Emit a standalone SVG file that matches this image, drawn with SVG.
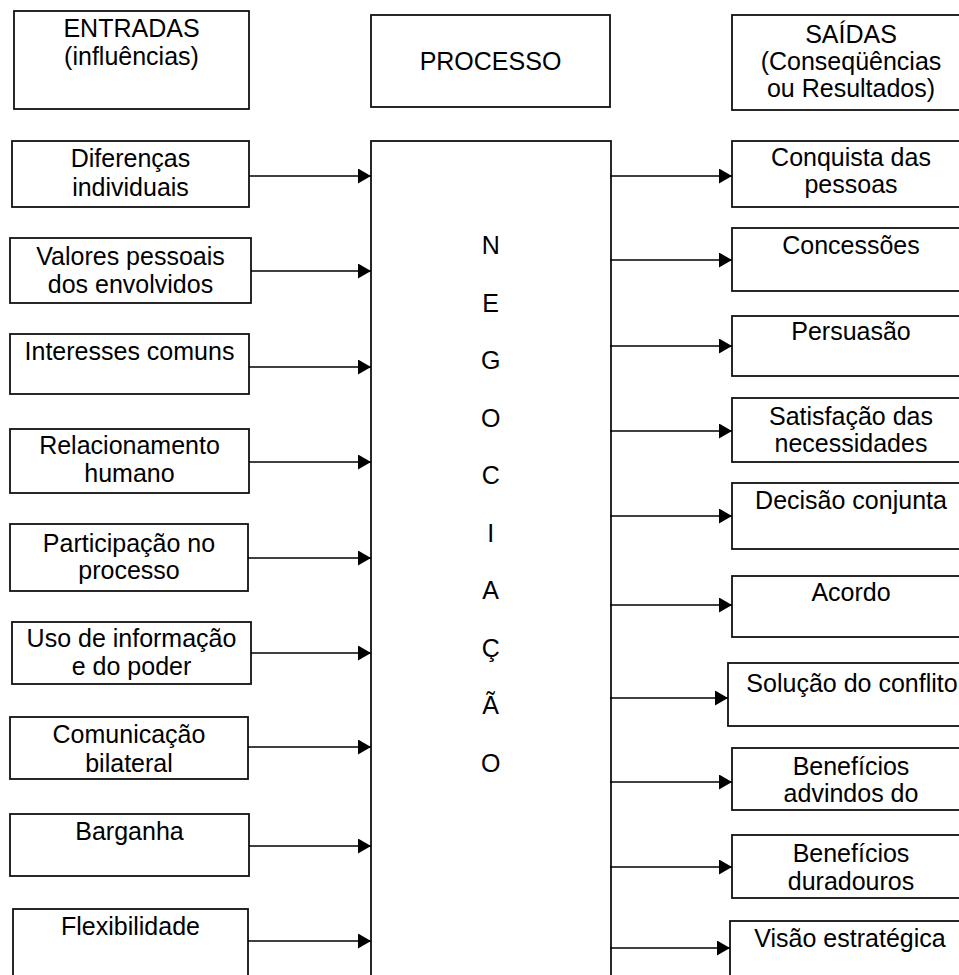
<svg xmlns="http://www.w3.org/2000/svg" width="959" height="975" viewBox="0 0 959 975">
  <style>
    .box { fill: #ffffff; stroke: #111111; stroke-width: 1.8; }
    .lbl { font-family: "Liberation Sans", Arial, sans-serif; font-size: 25px; fill: #000000; text-anchor: middle; }
    .conn { stroke: #000000; stroke-width: 1.7; fill: none; marker-end: url(#arrow); }
  </style>
  <defs>
    <marker id="arrow" markerUnits="userSpaceOnUse" markerWidth="14" markerHeight="16" refX="13" refY="7.5" orient="auto">
      <path d="M0,0 L13,7.5 L0,15 Z" fill="#000000"/>
    </marker>
  </defs>
  <rect width="959" height="975" fill="#ffffff"/>

  <!-- column headers -->
  <g id="hdr-entradas">
    <rect class="box" x="14" y="11" width="235" height="98"/>
    <text class="lbl" x="131.5" y="37">ENTRADAS</text>
    <text class="lbl" x="131.5" y="65">(influências)</text>
  </g>
  <g id="hdr-processo">
    <rect class="box" x="371" y="15" width="239" height="92"/>
    <text class="lbl" x="490.5" y="70">PROCESSO</text>
  </g>
  <g id="hdr-saidas">
    <rect class="box" x="732" y="15" width="240" height="95"/>
    <text class="lbl" x="851" y="43">SAÍDAS</text>
    <text class="lbl" x="851" y="70">(Conseqüências</text>
    <text class="lbl" x="851" y="97">ou Resultados)</text>
  </g>

  <!-- central process -->
  <g id="negociacao">
    <rect class="box" x="371" y="141" width="240" height="850"/>
    <text class="lbl" x="490.7" y="254">N</text>
    <text class="lbl" x="490.7" y="311.5">E</text>
    <text class="lbl" x="490.7" y="369">G</text>
    <text class="lbl" x="490.7" y="426.5">O</text>
    <text class="lbl" x="490.7" y="484">C</text>
    <text class="lbl" x="490.7" y="541.5">I</text>
    <text class="lbl" x="490.7" y="599">A</text>
    <text class="lbl" x="490.7" y="656.5">Ç</text>
    <text class="lbl" x="490.7" y="714">Ã</text>
    <text class="lbl" x="490.7" y="771.5">O</text>
  </g>

  <!-- inputs -->
  <g id="in-diferencas">
    <rect class="box" x="12" y="141" width="237" height="66"/>
    <text class="lbl" x="130.5" y="167">Diferenças</text>
    <text class="lbl" x="130.5" y="196">individuais</text>
  </g>
  <g id="in-valores">
    <rect class="box" x="10" y="238" width="241" height="65"/>
    <text class="lbl" x="130.5" y="265">Valores pessoais</text>
    <text class="lbl" x="130.5" y="293">dos envolvidos</text>
  </g>
  <g id="in-interesses">
    <rect class="box" x="10" y="334" width="239" height="60"/>
    <text class="lbl" x="129.5" y="360">Interesses comuns</text>
  </g>
  <g id="in-relacionamento">
    <rect class="box" x="10" y="429" width="239" height="64"/>
    <text class="lbl" x="129.5" y="454">Relacionamento</text>
    <text class="lbl" x="129.5" y="482">humano</text>
  </g>
  <g id="in-participacao">
    <rect class="box" x="10" y="524" width="238" height="67"/>
    <text class="lbl" x="129" y="551.5">Participação no</text>
    <text class="lbl" x="129" y="578.5">processo</text>
  </g>
  <g id="in-uso">
    <rect class="box" x="12" y="622" width="239" height="62"/>
    <text class="lbl" x="131.5" y="647">Uso de informação</text>
    <text class="lbl" x="131.5" y="675">e do poder</text>
  </g>
  <g id="in-comunicacao">
    <rect class="box" x="10" y="717" width="238" height="62"/>
    <text class="lbl" x="129" y="743">Comunicação</text>
    <text class="lbl" x="129" y="771.5">bilateral</text>
  </g>
  <g id="in-barganha">
    <rect class="box" x="10" y="814" width="239" height="62"/>
    <text class="lbl" x="129.5" y="840">Barganha</text>
  </g>
  <g id="in-flexibilidade">
    <rect class="box" x="13" y="909" width="235" height="80"/>
    <text class="lbl" x="130.5" y="935">Flexibilidade</text>
  </g>

  <!-- outputs -->
  <g id="out-conquista">
    <rect class="box" x="732" y="141" width="240" height="66"/>
    <text class="lbl" x="851" y="166">Conquista das</text>
    <text class="lbl" x="851" y="193">pessoas</text>
  </g>
  <g id="out-concessoes">
    <rect class="box" x="732" y="228" width="240" height="63"/>
    <text class="lbl" x="851" y="253.5">Concessões</text>
  </g>
  <g id="out-persuasao">
    <rect class="box" x="732" y="316" width="240" height="60"/>
    <text class="lbl" x="851" y="340">Persuasão</text>
  </g>
  <g id="out-satisfacao">
    <rect class="box" x="732" y="398" width="240" height="64"/>
    <text class="lbl" x="851" y="425">Satisfação das</text>
    <text class="lbl" x="851" y="452">necessidades</text>
  </g>
  <g id="out-decisao">
    <rect class="box" x="732" y="483" width="240" height="66"/>
    <text class="lbl" x="851" y="508.5">Decisão conjunta</text>
  </g>
  <g id="out-acordo">
    <rect class="box" x="732" y="576" width="240" height="61"/>
    <text class="lbl" x="851" y="601">Acordo</text>
  </g>
  <g id="out-solucao">
    <rect class="box" x="728" y="663" width="244" height="63"/>
    <text class="lbl" x="852" y="691.5">Solução do conflito</text>
  </g>
  <g id="out-beneficios-advindos">
    <rect class="box" x="732" y="748" width="240" height="62"/>
    <text class="lbl" x="851" y="775">Benefícios</text>
    <text class="lbl" x="851" y="802">advindos do</text>
  </g>
  <g id="out-beneficios-duradouros">
    <rect class="box" x="732" y="835" width="240" height="63"/>
    <text class="lbl" x="851" y="862">Benefícios</text>
    <text class="lbl" x="851" y="890">duradouros</text>
  </g>
  <g id="out-visao">
    <rect class="box" x="730" y="921" width="242" height="70"/>
    <text class="lbl" x="850" y="947">Visão estratégica</text>
  </g>

  <!-- connectors -->
  <g id="connectors">
    <line class="conn" x1="249" y1="176" x2="371" y2="176"/>
    <line class="conn" x1="251" y1="271" x2="371" y2="271"/>
    <line class="conn" x1="249" y1="367" x2="371" y2="367"/>
    <line class="conn" x1="249" y1="462" x2="371" y2="462"/>
    <line class="conn" x1="248" y1="558" x2="371" y2="558"/>
    <line class="conn" x1="251" y1="653" x2="371" y2="653"/>
    <line class="conn" x1="248" y1="747" x2="371" y2="747"/>
    <line class="conn" x1="249" y1="846" x2="371" y2="846"/>
    <line class="conn" x1="248" y1="941" x2="371" y2="941"/>

    <line class="conn" x1="610" y1="176" x2="732" y2="176"/>
    <line class="conn" x1="610" y1="260" x2="732" y2="260"/>
    <line class="conn" x1="610" y1="346" x2="732" y2="346"/>
    <line class="conn" x1="610" y1="431" x2="732" y2="431"/>
    <line class="conn" x1="610" y1="516" x2="732" y2="516"/>
    <line class="conn" x1="610" y1="605" x2="732" y2="605"/>
    <line class="conn" x1="610" y1="698" x2="728" y2="698"/>
    <line class="conn" x1="610" y1="782" x2="732" y2="782"/>
    <line class="conn" x1="610" y1="867" x2="732" y2="867"/>
    <line class="conn" x1="610" y1="948" x2="730" y2="948"/>
  </g>
</svg>
